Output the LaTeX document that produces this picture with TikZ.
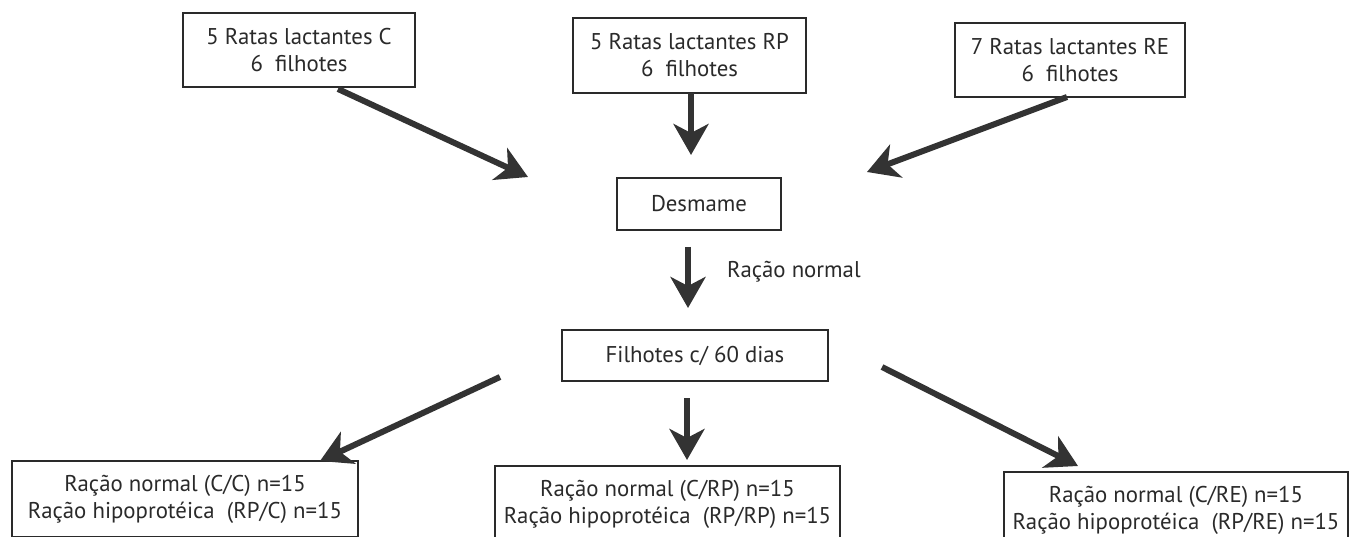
\documentclass[tikz,border=0pt]{standalone}
\usepackage{fontspec}
\setmainfont{PT Sans}
\usetikzlibrary{arrows.meta}
\definecolor{ink}{HTML}{2A2A2A}
\definecolor{arrowink}{HTML}{333333}
\tikzset{
  box/.style={draw=ink, line width=1.3pt, text=ink, align=center, inner sep=0pt,
              font=\fontsize{22.8}{27}\selectfont},
  arr/.style={draw=arrowink, line width=6pt,
              -{Stealth[length=31pt,width=35pt,inset=9pt]}},
  lbl/.style={text=ink, font=\fontsize{22.8}{27}\selectfont, inner sep=0pt}
}
\begin{document}
\begin{tikzpicture}[x=1pt,y=-1pt]
\useasboundingbox[fill=white] (0,0) rectangle (1355,537);
% top boxes
\node[box, minimum width=232pt, minimum height=74pt] (C) at (299,50)
  {5 Ratas lactantes C\\6\ \ filhotes};
\node[box, minimum width=233pt, minimum height=75pt] (RP) at (689.5,55.5)
  {5 Ratas lactantes RP\\6\ \ filhotes};
\node[box, minimum width=230pt, minimum height=74pt] (RE) at (1070,60)
  {7 Ratas lactantes RE\\6\ \ filhotes};
% middle
\node[box, minimum width=164pt, minimum height=52pt] (D) at (699,204) {Desmame};
\node[box, minimum width=266pt, minimum height=51pt] (F) at (695,355.5) {Filhotes c/ 60 dias};
% bottom boxes
\node[box, minimum width=346pt, minimum height=76pt] (BL) at (185,499)
  {Ração normal (C/C) n=15\\Ração hipoprotéica\ \ (RP/C) n=15};
\node[box, minimum width=345pt, minimum height=76pt] (BM) at (667.5,504)
  {Ração normal (C/RP) n=15\\Ração hipoprotéica\ \ (RP/RP) n=15};
\node[box, minimum width=344pt, minimum height=76pt] (BR) at (1176,510)
  {Ração normal (C/RE) n=15\\Ração hipoprotéica\ \ (RP/RE) n=15};
% arrow end points
\coordinate (a1s) at (338,89);   \coordinate (a1e) at (528,177);
\coordinate (a2s) at (691,93);   \coordinate (a2e) at (691,155);
\coordinate (a3s) at (1067,97);  \coordinate (a3e) at (867,172);
\coordinate (a4s) at (688,247);  \coordinate (a4e) at (688,308);
\coordinate (a5s) at (500,377);  \coordinate (a5e) at (320,461);
\coordinate (a6s) at (687,398);  \coordinate (a6e) at (687,460);
\coordinate (a7s) at (882,367);  \coordinate (a7e) at (1078,466);
\draw[arr] (a1s) -- (a1e);
\draw[arr] (a2s) -- (a2e);
\draw[arr] (a3s) -- (a3e);
\draw[arr] (a4s) -- (a4e);
\draw[arr] (a5s) -- (a5e);
\draw[arr] (a6s) -- (a6e);
\draw[arr] (a7s) -- (a7e);
\node[lbl, anchor=west] (rn) at (727,272) {Ração normal};
\end{tikzpicture}
\end{document}
